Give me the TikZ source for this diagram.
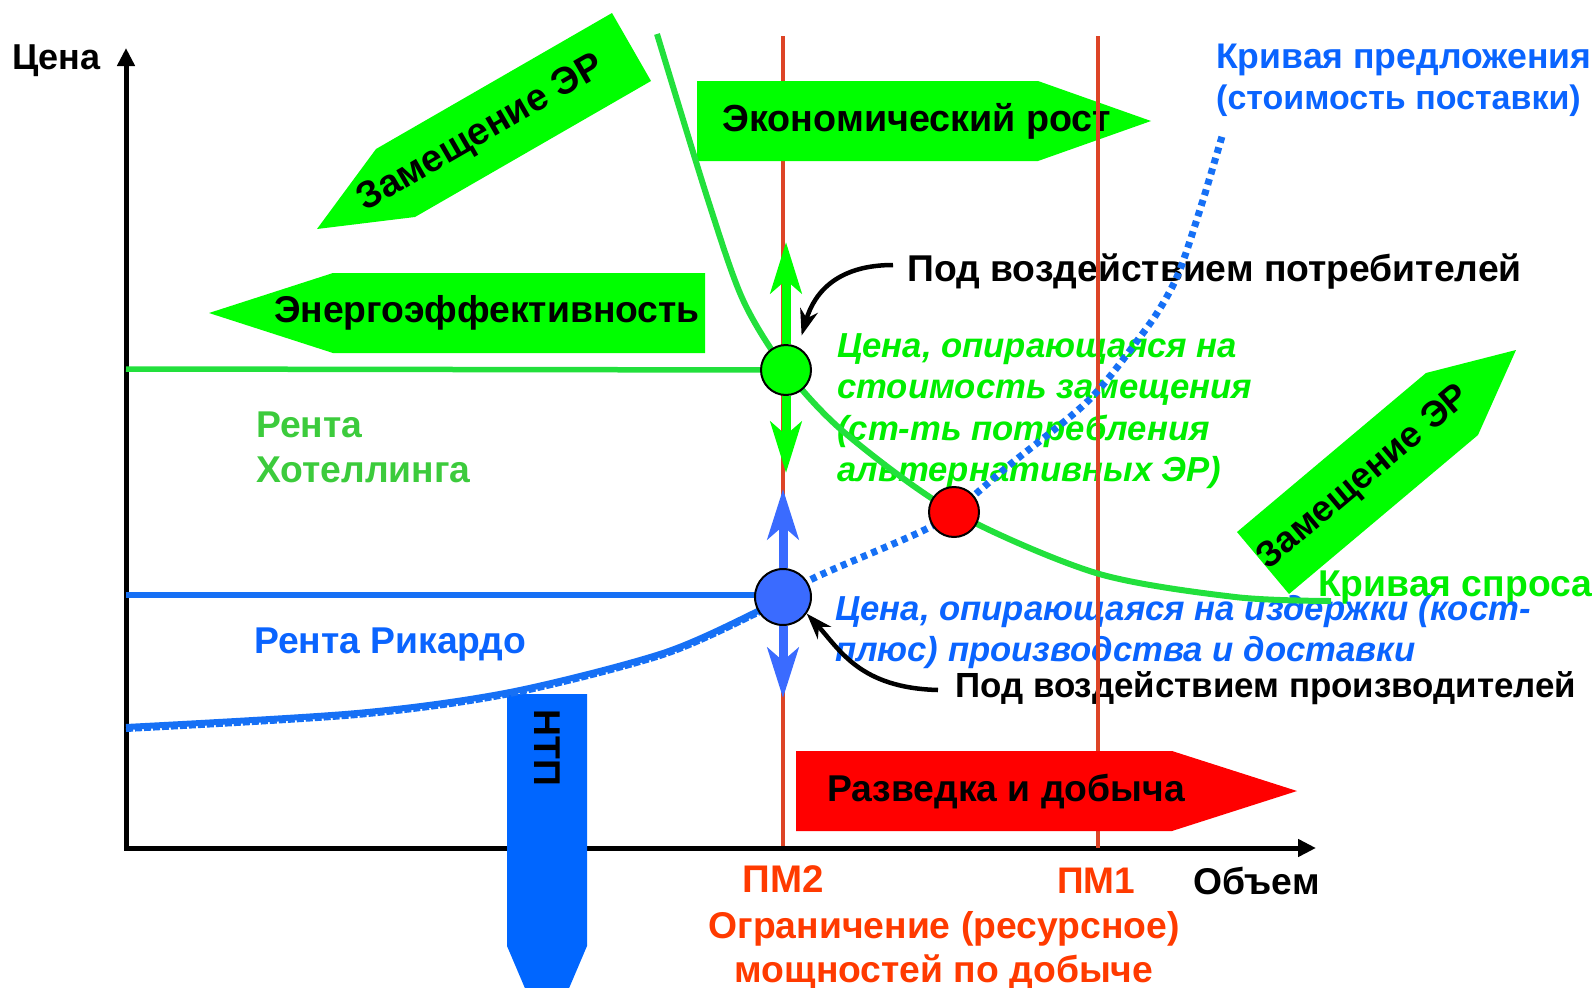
\documentclass[tikz,border=0pt]{standalone}
\usepackage{fontspec}
\setmainfont{Liberation Sans}
\usetikzlibrary{arrows.meta}
\definecolor{shapegreen}{HTML}{00FF00}
\definecolor{curvegreen}{HTML}{22E03C}
\definecolor{txtgreen}{HTML}{00EE00}
\definecolor{rentgreen}{HTML}{3CCB3C}
\definecolor{txtblue}{HTML}{0A64FF}
\definecolor{dotblue}{HTML}{1670F5}
\definecolor{ballblue}{HTML}{3A6BFF}
\definecolor{ntpblue}{HTML}{0066FF}
\definecolor{pmred}{HTML}{DD4426}
\definecolor{pmtxt}{HTML}{FF3A00}
\newcommand{\fsz}[1]{\fontsize{#1}{44}\selectfont}
\tikzset{
  lbl/.style={font=\bfseries\fsz{37.3}, inner sep=0pt},
  ital/.style={font=\bfseries\itshape\fontsize{34.7}{41.5}\selectfont, inner sep=0pt, align=left},
  pmline/.style={pmred, line width=3.5},
  ball/.style={circle, draw=black, line width=2, minimum size=50, inner sep=0pt},
  garrow/.style={shapegreen, line width=9, -{Stealth[length=51pt,width=31pt,inset=13pt]}},
  barrow/.style={ballblue, line width=9, -{Stealth[length=50pt,width=31pt,inset=13pt]}},
  callout/.style={black, line width=4.5, -{Stealth[length=26pt,width=18pt,inset=8pt]}},
}
\begin{document}
\begin{tikzpicture}[x=1pt,y=-1pt]
\useasboundingbox (0,0) rectangle (1596,988);
\clip (0,0) rectangle (1596,988);
\draw[pmline] (783,36) -- (783,848);
\fill[shapegreen] (612,13) -- (651,81) -- (415,217) -- (317,229) -- (376,149) -- cycle;
\fill[shapegreen] (697,81) -- (1038,81) -- (1151,121) -- (1038,161) -- (697,161) -- cycle;
\fill[shapegreen] (705,273) -- (333,273) -- (209,313) -- (333,353) -- (705,353) -- cycle;
\fill[shapegreen] (1289,594) -- (1478,435) -- (1516,350) -- (1426,373) -- (1237,532) -- cycle;
\draw[black, line width=5, {Triangle[length=18pt,width=17pt]}-{Triangle[length=18pt,width=17pt]}] (126,48) -- (126,848) -- (1316,848);
\fill[ntpblue] (507,694) -- (587,694) -- (587,946) -- (547,1040) -- (507,946) -- cycle;
\node[lbl, rotate=30, font=\bfseries\fsz{38}] (zamL) at (481,134) {Замещение ЭР};
\node[lbl, font=\bfseries\fsz{37.7}] (econ) at (917,121) {Экономический рост};
\node[lbl] (energo) at (487,313) {Энергоэффективность};
\node[lbl, rotate=40, font=\bfseries\fsz{36.3}] (zamR) at (1364,478) {Замещение ЭР};
\node[lbl, rotate=-90] (ntp) at (547,748) {НТП};
\node[lbl, anchor=west, font=\bfseries\fsz{36}] (price) at (12,61) {Цена};
\node[lbl, anchor=west] (volume) at (1193,881) {Объем};
\node[lbl, text=pmtxt, font=\bfseries\fsz{38.5}] (pm2) at (783,879) {ПМ2};
\node[lbl, text=pmtxt, font=\bfseries\fsz{37}] (pm1) at (1096,881) {ПМ1};
\node[lbl, text=pmtxt, align=center, anchor=north] (limit) at (944,911) {Ограничение (ресурсное)\\мощностей по добыче};
\node[lbl, text=rentgreen, align=left, anchor=north west, font=\bfseries\fontsize{37.3}{45}\selectfont] (hotel) at (256,412) {Рента\\Хотеллинга};
\node[lbl, text=txtblue, anchor=west] (ricardo) at (254,645) {Рента Рикардо};
\node[lbl, text=txtblue, align=left, anchor=north west, font=\bfseries\fontsize{35.6}{41}\selectfont] (supply) at (1216,44) {Кривая предложения\\\fontsize{34}{41}\selectfont(стоимость поставки)};
\node[lbl, text=txtgreen, anchor=west] (demand) at (1318,588) {Кривая спроса};
\node[ital, text=txtgreen, anchor=north west] (subst) at (837,333) {Цена, опирающаяся на\\стоимость замещения\\(ст-ть потребления\\альтернативных ЭР)};
\node[ital, text=txtblue, anchor=north west] (costplus) at (835,595) {Цена, опирающаяся на издержки (кост-\\плюс) производства и доставки};
\node[lbl, anchor=west] (cons) at (907,271) {Под воздействием потребителей};
\node[lbl, anchor=west, font=\bfseries\fsz{34.9}] (prod) at (955,688) {Под воздействием производителей};
\draw[pmline] (1098,36) -- (1098,848);
\fill[red] (796,751) -- (1172,751) -- (1297,791) -- (1172,831) -- (796,831) -- cycle;
\node[lbl] (razv) at (1006,792) {Разведка и добыча};
\coordinate (gP) at (786,370);
\coordinate (bP) at (783,597);
\coordinate (rP) at (954,512);
\coordinate (hotY) at (126,369);
\coordinate (ricY) at (126,595);
\draw[curvegreen, line width=5.5] (hotY) -- (gP);
\draw[dotblue, line width=5.5] (ricY) -- (783,595);
\draw[curvegreen, line width=6] plot[smooth] coordinates {(657,34) (708,200) (743,300) (786,370) (845,433) (954,512) (1096,573) (1235,597) (1331,601)};
\draw[dotblue, line width=6] plot[smooth] coordinates {(126,727) (357,713) (510,692) (663,653) (760,610) (783,597)};
\draw[dotblue, line width=4, dash pattern=on 7pt off 2pt, yshift=-3pt] plot[smooth] coordinates {(126,727) (357,713) (510,692) (663,653) (760,610) (783,597)};
\draw[dotblue, line width=7, dash pattern=on 6pt off 5pt] plot[smooth] coordinates {(783,597) (816,577) (918,533) (954,512) (1007,467) (1089,400) (1143,333) (1165,300) (1181,267) (1203,200) (1223,133)};
\node[ball, fill=shapegreen] (gC) at (gP) {};
\node[ball, fill=ballblue, minimum height=56] (bC) at (bP) {};
\node[ball, fill=red] (rC) at (rP) {};
\coordinate (gUp) at (786,242);
\coordinate (gDn) at (786,473);
\coordinate (bUp) at (783,489);
\coordinate (bDn) at (783,698);
\draw[garrow] (gC.north) -- (gUp);
\draw[garrow] (gC.south) -- (gDn);
\draw[barrow] (bC.north) -- (bUp);
\draw[barrow] (bC.south) -- (bDn);
\draw[callout, shorten >=12pt] (cons.west) ++(-14,-6) .. controls (840,265) and (815,290) .. (gC.62);
\draw[callout] (prod.west) ++(-17,2) .. controls (860,688) and (840,650) .. (bC.-35);
\end{tikzpicture}
\end{document}
